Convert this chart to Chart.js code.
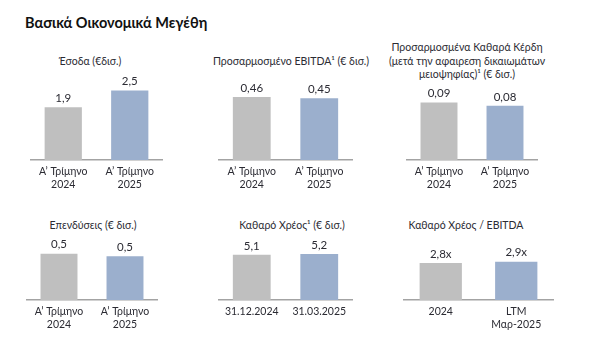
<!DOCTYPE html>
<html>
<head>
<meta charset="utf-8">
<script src="https://cdn.jsdelivr.net/npm/chart.js@4.4.1/dist/chart.umd.min.js"></script>
<style>
  html, body { margin:0; padding:0; background:#ffffff; }
  body { width:600px; height:356px; position:relative; overflow:hidden; font-family: Lato, "Noto Sans", sans-serif; color:#2b2b33; }
  #mainTitle { position:absolute; left:25px; top:14px; font-size:14.5px; font-weight:bold; color:#111; white-space:nowrap; }
  .ptitle { position:absolute; font-size:10.5px; line-height:13.5px; text-align:center; white-space:nowrap; transform:translateX(-50%); color:#2b2b33; }
  canvas { position:absolute; }
</style>
</head>
<body>
<div id="mainTitle">Βασικά Οικονομικά Μεγέθη</div>

<script>
// ---- data ----
const panelTitles = [
  ["Έσοδα (€δισ.)"],
  ["Προσαρμοσμένο EBITDA¹ (€ δισ.)"],
  ["Προσαρμοσμένα Καθαρά Κέρδη", "(μετά την αφαιρεση δικαιωμάτων", "μειοψηφίας)¹ (€ δισ.)"],
  ["Επενδύσεις (€ δισ.)"],
  ["Καθαρό Χρέος¹ (€ δισ.)"],
  ["Καθαρό Χρέος / EBITDA"]
];

const quarterCategories = [["Α’ Τρίμηνο", "2024"], ["Α’ Τρίμηνο", "2025"]];
const debtCategories = ["31.12.2024", "31.03.2025"];
const leverageCategories = ["2024", ["LTM", "Μαρ-2025"]];

const revenueValues = [1.9, 2.5];
const revenueLabels = ["1,9", "2,5"];
const ebitdaValues = [0.46, 0.45];
const ebitdaLabels = ["0,46", "0,45"];
const profitValues = [0.088, 0.083];
const profitLabels = ["0,09", "0,08"];
const capexValues = [0.53, 0.50];
const capexLabels = ["0,5", "0,5"];
const debtValues = [5.1, 5.2];
const debtLabels = ["5,1", "5,2"];
const leverageValues = [2.8, 2.9];
const leverageLabels = ["2,8x", "2,9x"];

const barColors = ["#bfbfbf", "#9bafcd"];

// ---- layout ----
const panels = [
  { cats: quarterCategories, vals: revenueValues, labels: revenueLabels, max: 3.24, left: 30, top: 70, w: 133, h: 125, tx: 90, ty: 55 },
  { cats: quarterCategories, vals: ebitdaValues, labels: ebitdaLabels, max: 0.657, left: 218, top: 70, w: 135, h: 125, tx: 291, ty: 55 },
  { cats: quarterCategories, vals: profitValues, labels: profitLabels, max: 0.138, left: 406, top: 70, w: 132, h: 125, tx: 467, ty: 41 },
  { cats: quarterCategories, vals: capexValues, labels: capexLabels, max: 0.8, left: 26, top: 230, w: 132, h: 105, tx: 93, ty: 219 },
  { cats: debtCategories, vals: debtValues, labels: debtLabels, max: 7.9, left: 218, top: 230, w: 135, h: 105, tx: 292, ty: 219 },
  { cats: leverageCategories, vals: leverageValues, labels: leverageLabels, max: 5.3, left: 403, top: 230, w: 151, h: 105, tx: 466, ty: 219 }
];

const valueLabelPlugin = {
  id: 'valueLabels',
  afterDatasetsDraw(chart, args, opts) {
    const ctx = chart.ctx;
    const meta = chart.getDatasetMeta(0);
    ctx.save();
    ctx.font = '11.5px Lato, "Noto Sans", sans-serif';
    ctx.fillStyle = '#2b2b33';
    ctx.textAlign = 'center';
    ctx.textBaseline = 'middle';
    meta.data.forEach((bar, i) => {
      ctx.fillText(opts.labels[i], bar.x, bar.y - 9);
    });
    ctx.restore();
  }
};

panels.forEach((p, idx) => {
  const t = document.createElement('div');
  t.className = 'ptitle';
  t.style.left = p.tx + 'px';
  t.style.top = p.ty + 'px';
  t.innerHTML = panelTitles[idx].join('<br>');
  document.body.appendChild(t);

  const c = document.createElement('canvas');
  c.width = p.w; c.height = p.h;
  c.style.left = p.left + 'px';
  c.style.top = p.top + 'px';
  c.style.width = p.w + 'px';
  c.style.height = p.h + 'px';
  document.body.appendChild(c);

  new Chart(c, {
    type: 'bar',
    data: {
      labels: p.cats,
      datasets: [{
        data: p.vals,
        backgroundColor: barColors,
        borderWidth: 0,
        categoryPercentage: 1.0,
        barPercentage: 0.56
      }]
    },
    options: {
      responsive: false,
      animation: false,
      devicePixelRatio: 1,
      layout: { padding: 0 },
      plugins: {
        legend: { display: false },
        tooltip: { enabled: false },
        title: { display: false },
        valueLabels: { labels: p.labels }
      },
      scales: {
        x: {
          grid: { display: false, drawTicks: false },
          border: { display: true, color: '#a3a3a3', width: 1.5 },
          ticks: {
            color: '#2b2b33',
            padding: 6,
            maxRotation: 0,
            autoSkip: false,
            font: { family: 'Lato, "Noto Sans", sans-serif', size: 10.5, lineHeight: 1.15 }
          },
          afterFit: s => { s.height = 35; }
        },
        y: { display: false, min: 0, max: p.max }
      }
    },
    plugins: [valueLabelPlugin]
  });
});
</script>
</body>
</html>
